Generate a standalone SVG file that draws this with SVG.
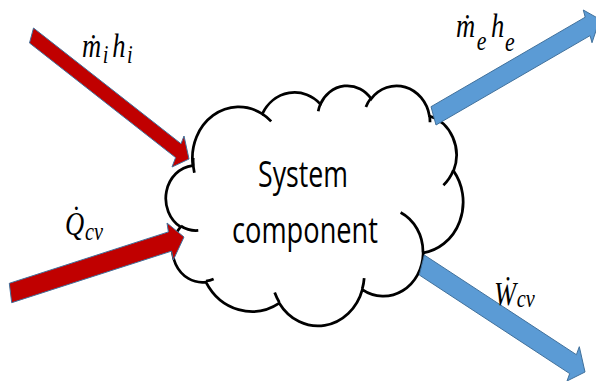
<svg xmlns="http://www.w3.org/2000/svg" width="596" height="381" viewBox="0 0 596 381">
<style>
.cloud{fill:#fff;stroke:#000;stroke-width:2.75;vector-effect:non-scaling-stroke}
.ghost{fill:none;stroke:#000;stroke-width:2.75;vector-effect:non-scaling-stroke}
.red{fill:#C00000;stroke:#41719C;stroke-width:1}
.blue{fill:#5B9BD5;stroke:#41719C;stroke-width:1}
.lbl{font-family:"Liberation Serif","DejaVu Serif",serif;font-style:italic;font-size:34px;fill:#000}
.sub{font-size:26px}
.main{font-family:"Open Sans","Liberation Sans",sans-serif;font-size:37px;fill:#000}
</style>
<rect width="596" height="381" fill="#fff"/>
<g id="cloud">
<g transform="translate(166,85) scale(0.006875,0.0055556)">
<path class="cloud" d="M3900 14370 A6753 9190 0 0 1 14004 5202 A5333 7267 0 0 1 22455 3432 A4365 5945 0 0 1 29835 2484 A4857 6595 0 0 1 38319 5580 A5333 7273 0 0 1 41820 15464 A6775 9220 0 0 1 37406 30208 A5785 7867 0 0 1 28558 36818 A6752 9215 0 0 1 16482 39269 A7720 10543 0 0 1 5807 35471 A4360 5918 0 0 1 2117 25548 A4345 5945 0 0 1 3867 14504 Z"/>
<path class="ghost" d="M4693 26177 A4345 5945 0 0 1 2160 25380 M6928 34899 A4360 5918 0 0 1 5820 35280 M16478 39090 A6752 9215 0 0 1 15810 37350 M28827 34751 A6752 9215 0 0 1 28560 36660 M34129 22954 A5785 7867 0 0 1 37380 30089 M41798 15354 A5333 7273 0 0 1 40350 18030 M38324 5426 A4857 6595 0 0 1 38400 6690 M29078 3952 A4857 6595 0 0 1 29820 2340 M22141 4720 A4365 5945 0 0 1 22500 3330 M14000 5192 A6753 9190 0 0 1 15300 6540 M4127 15789 A6753 9190 0 0 1 3956 13114"/>
</g>
<text class="main" x="258" y="187" textLength="90" lengthAdjust="spacingAndGlyphs">System</text>
<text class="main" x="232" y="243" textLength="146" lengthAdjust="spacingAndGlyphs">component</text>
</g>
<g id="connectors">
<polygon id="in-mass" class="red" points="33.5,28 181,143.7 184,136 189,159 172,167 175.6,157.6 29.5,43"/>
<polygon id="in-heat" class="red" points="9.3,283.3 168.4,231.9 167,223 184,237 173.3,260 171.6,251.1 11.7,302.7"/>
<polygon id="out-mass" class="blue" points="431,106.7 585.2,17.2 583.3,10 599.8,19.3 592,42.7 590.1,35.6 436,125"/>
<polygon id="out-work" class="blue" points="424.3,255 576.4,354.7 579.3,346.7 585,372 567,381 569.7,373.6 419.3,275"/>
</g>
<g id="labels">
<text class="lbl" transform="translate(82,57) scale(0.78,1)">ṁ<tspan class="sub" dx="2" dy="6">i</tspan><tspan dx="5" dy="-6">h</tspan><tspan class="sub" dx="2" dy="6">i</tspan></text>
<text class="lbl" transform="translate(456,37) scale(0.78,1)">ṁ<tspan class="sub" style="font-size:28px" dx="2" dy="13">e</tspan><tspan dx="6" dy="-13">h</tspan><tspan class="sub" style="font-size:28px" dx="1" dy="14">e</tspan></text>
<text class="lbl" transform="translate(65,235) scale(0.78,1)">Q&#x307;<tspan class="sub" dx="1" dy="5">cv</tspan></text>
<text class="lbl" transform="translate(494,305) scale(0.78,1)">Ẇ<tspan class="sub" dx="1" dy="2">cv</tspan></text>
</g>
</svg>
